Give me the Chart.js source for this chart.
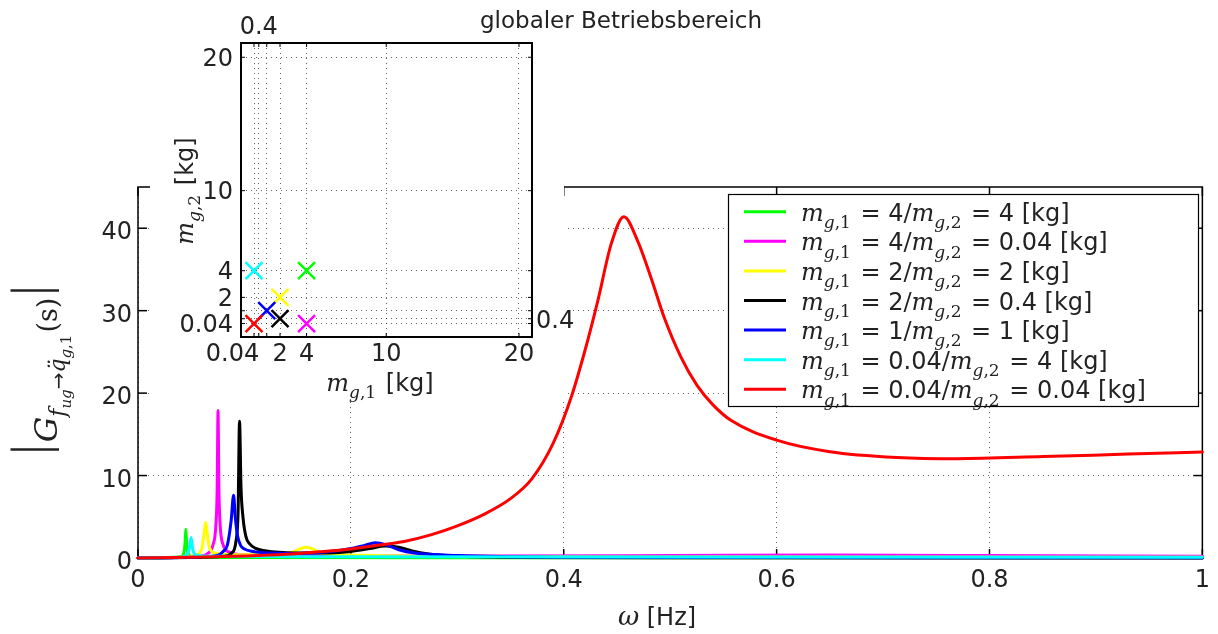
<!DOCTYPE html>
<html>
<head>
<meta charset="utf-8">
<script src="https://cdn.jsdelivr.net/npm/chart.js@4.4.0/dist/chart.umd.min.js"></script>
<style>
  body { margin: 0; background: #fff; }
  #wrap { position: relative; width: 1218px; height: 634px; }
  #wrap canvas { position: absolute; left: 0; top: 0; }
</style>
</head>
<body>
<div id="wrap">
  <canvas id="main" width="1218" height="634"></canvas>
  <canvas id="inset" width="1218" height="634"></canvas>
</div>
<script>
// series order: green, magenta, yellow, black, blue, cyan, red
const seriesColors = ['#00ff00', '#ff00ff', '#ffff00', '#000000', '#0000ff', '#00ffff', '#ff0000'];
const m1Labels = ['4', '4', '2', '2', '1', '0.04', '0.04'];
const m2Labels = ['4', '0.04', '2', '0.4', '1', '4', '0.04'];
const m1Values = [4, 4, 2, 2, 1, 0.04, 0.04];
const m2Values = [4, 0.04, 2, 0.4, 1, 4, 0.04];

// main plot axes
const mainXTicks = [0, 0.2, 0.4, 0.6, 0.8, 1];
const mainXLabels = ['0', '0.2', '0.4', '0.6', '0.8', '1'];
const mainYTicks = [0, 10, 20, 30, 40];
const mainYLabels = ['0', '10', '20', '30', '40'];

// inset axes
const insetTicks = [0.04, 0.4, 1, 2, 4, 10, 20];
const insetBottomLabels = ['0.04', '2', '4', '10', '20'];
const insetLeftLabels = ['0.04', '2', '4', '10', '20'];
const insetTopTicks = [0.4];
const insetRightTicks = [0.4];

// |G| over omega [Hz]
const greenX = [0, 0.03, 0.04, 0.043, 0.0443, 0.0449, 0.0456, 0.047, 0.05, 0.06, 0.1, 0.3, 1];
const greenY = [0, 0.05, 0.15, 0.6, 2.0, 3.5, 2.0, 0.6, 0.2, 0.1, 0.05, 0.03, 0.02];

const magentaX = [0, 0.04, 0.06, 0.065, 0.0705, 0.0732, 0.0744, 0.0752, 0.076, 0.0772, 0.08, 0.086, 0.1, 0.15, 0.3, 0.5, 0.65, 0.8, 1];
const magentaY = [0, 0.1, 0.25, 0.5, 1.6, 4, 8.5, 17.9, 8.5, 4, 1.6, 0.7, 0.4, 0.25, 0.25, 0.3, 0.35, 0.3, 0.2];

const yellowX = [0, 0.04, 0.055, 0.06, 0.062, 0.0636, 0.065, 0.067, 0.072, 0.09, 0.13, 0.145, 0.152, 0.158, 0.164, 0.172, 0.2, 0.3, 0.5, 1];
const yellowY = [0, 0.1, 0.4, 1.2, 2.8, 4.35, 3.0, 1.3, 0.6, 0.4, 0.45, 0.7, 1.1, 1.3, 1.1, 0.6, 0.35, 0.2, 0.12, 0.08];

const blackX = [0, 0.05, 0.08, 0.088, 0.092, 0.094, 0.0954, 0.0968, 0.0986, 0.1014, 0.105, 0.11, 0.1235, 0.14, 0.154, 0.18, 0.2, 0.218, 0.232, 0.245, 0.2576, 0.273, 0.304, 0.35, 0.5, 1];
const blackY = [0, 0.05, 0.2, 0.6, 2.0, 5.5, 16.6, 8.5, 5.0, 2.6, 1.7, 1.2, 0.8, 0.65, 0.6, 0.62, 0.8, 1.15, 1.45, 1.3, 0.85, 0.5, 0.2, 0.06, 0.02, 0.01];

const blueX = [0, 0.04, 0.06, 0.075, 0.08, 0.084, 0.0875, 0.0898, 0.0915, 0.0935, 0.0965, 0.1, 0.108, 0.125, 0.14, 0.16, 0.185, 0.2, 0.212, 0.223, 0.235, 0.245, 0.26, 0.3, 0.4, 0.6, 1];
const blueY = [0, 0.05, 0.15, 0.35, 0.8, 1.6, 4.5, 7.6, 4.8, 2.7, 1.5, 1.1, 0.8, 0.6, 0.55, 0.6, 0.85, 1.15, 1.5, 1.85, 1.5, 1.0, 0.6, 0.3, 0.1, 0.05, 0.03];

const cyanX = [0, 0.04, 0.046, 0.0485, 0.0499, 0.0512, 0.054, 0.07, 0.2, 0.5, 1];
const cyanY = [0, 0.1, 0.4, 1.3, 2.5, 1.2, 0.4, 0.2, 0.15, 0.12, 0.1];

const redX = [0, 0.05, 0.1, 0.139, 0.17, 0.2, 0.226, 0.25, 0.275, 0.3, 0.325, 0.35, 0.37, 0.39, 0.407, 0.42, 0.432, 0.4446, 0.4565, 0.4693, 0.482, 0.4943, 0.51, 0.5254, 0.54, 0.557, 0.6, 0.65, 0.713, 0.77, 0.85, 0.93, 1];
const redY = [0, 0.1, 0.25, 0.45, 0.75, 1.1, 1.55, 2.0, 2.8, 3.9, 5.3, 7.2, 9.6, 13.9, 19.5, 25.2, 31.2, 38.1, 41.4, 38.5, 34.0, 29.2, 24.4, 20.9, 18.6, 16.7, 14.3, 12.9, 12.2, 12.05, 12.3, 12.6, 12.85];

const curves = [[greenX, greenY], [magentaX, magentaY], [yellowX, yellowY], [blackX, blackY],
                [blueX, blueY], [cyanX, cyanY], [redX, redY]];

const TXT = '#222';
const MI = s => `italic ${s}px "DejaVu Serif"`;
const RM = s => `${s}px "DejaVu Serif"`;
const SS = s => `${s}px "DejaVu Sans"`;

function richWidth(ctx, parts) {
  let w = 0;
  parts.forEach(p => { ctx.font = p.f; w += ctx.measureText(p.t).width + (p.gap || 0); });
  return w;
}

function drawRich(ctx, parts, x, y, center) {
  let cx = center ? x - richWidth(ctx, parts) / 2 : x;
  ctx.textAlign = 'left';
  ctx.textBaseline = 'alphabetic';
  ctx.fillStyle = TXT;
  parts.forEach(p => {
    ctx.font = p.f;
    ctx.fillText(p.t, cx, y + (p.dy || 0));
    cx += ctx.measureText(p.t).width + (p.gap || 0);
  });
}

function massParts(k, size) {
  const s = Math.round(size * 0.7);
  return [{ t: 'm', f: MI(size) }, { t: 'g', f: MI(s), dy: size * 0.3 }, { t: ',' + k, f: RM(s), dy: size * 0.3, gap: 2 }];
}

function legendParts(i, size) {
  return [...massParts(1, size), { t: ' = ', f: RM(size) }, { t: m1Labels[i], f: SS(size) }, { t: '/', f: RM(size) },
          ...massParts(2, size), { t: ' = ', f: RM(size) }, { t: m2Labels[i], f: SS(size) }, { t: ' [kg]', f: SS(size) }];
}

function tickLine(ctx, x1, y1, x2, y2) {
  ctx.beginPath(); ctx.moveTo(x1, y1); ctx.lineTo(x2, y2); ctx.stroke();
}

const gridOpts = { color: 'rgba(0,0,0,0.6)', lineWidth: 1, drawTicks: false };
const borderOpts = { display: false, dash: [1, 4] };
const tickFont = { family: 'DejaVu Sans', size: 24 };

// ---------- main chart ----------
const mainPlugin = {
  id: 'mainDecor',
  beforeDatasetsDraw(chart) {
    const { ctx, chartArea: a, scales: { x, y } } = chart;
    ctx.save();
    ctx.strokeStyle = '#000';
    ctx.lineWidth = 1.5;
    ctx.strokeRect(a.left, a.top, a.right - a.left, a.bottom - a.top);
    mainXTicks.forEach(v => {
      const px = x.getPixelForValue(v);
      tickLine(ctx, px, a.bottom, px, a.bottom - 9);
      tickLine(ctx, px, a.top, px, a.top + 9);
    });
    mainYTicks.forEach(v => {
      const py = y.getPixelForValue(v);
      tickLine(ctx, a.left, py, a.left + 9, py);
      tickLine(ctx, a.right, py, a.right - 9, py);
    });
    // area hidden behind the inset axes
    ctx.fillStyle = '#fff';
    ctx.fillRect(150, 0, 414, 402);
    ctx.restore();
  },
  afterDraw(chart) {
    const { ctx } = chart;
    ctx.save();
    // title
    ctx.font = SS(23);
    ctx.fillStyle = TXT;
    ctx.textAlign = 'center';
    ctx.fillText('globaler Betriebsbereich', 621, 28);
    // x title
    drawRich(ctx, [{ t: '\u03c9', f: MI(26) }, { t: ' [Hz]', f: SS(24) }], 657, 625, true);
    // y title
    ctx.save();
    ctx.translate(57, 370);
    ctx.rotate(-Math.PI / 2);
    drawRich(ctx, [
      { t: '|', f: '52px "Liberation Serif"', dy: -9, gap: 2 },
      { t: 'G', f: MI(32) },
      { t: 'f', f: MI(22), dy: 8 },
      { t: 'ug', f: MI(15), dy: 14 },
      { t: '\u2192', f: SS(20), dy: 8 },
      { t: 'q\u0308', f: MI(22), dy: 8 },
      { t: 'g', f: MI(15), dy: 14 },
      { t: ',1', f: RM(15), dy: 14, gap: 2 },
      { t: '(s)', f: RM(27), gap: 2 },
      { t: '|', f: '52px "Liberation Serif"', dy: -9 }
    ], 0, 0, true);
    ctx.restore();
    // legend
    ctx.fillStyle = '#fff';
    ctx.fillRect(728.5, 194.5, 470, 212);
    ctx.strokeStyle = '#000';
    ctx.lineWidth = 1.2;
    ctx.strokeRect(728.5, 194.5, 470, 212);
    seriesColors.forEach((c, i) => {
      const ry = 211.7 + i * 29.6;
      ctx.strokeStyle = c;
      ctx.lineWidth = 3;
      tickLine(ctx, 744, ry, 786, ry);
      drawRich(ctx, legendParts(i, 24), 801, ry + 9, false);
    });
    ctx.restore();
  }
};

new Chart(document.getElementById('main'), {
  type: 'line',
  data: {
    datasets: curves.map(([xs, ys], i) => ({
      label: m1Labels[i] + '/' + m2Labels[i],
      data: xs.map((xv, k) => ({ x: xv, y: ys[k] })),
      borderColor: seriesColors[i],
      borderWidth: 3,
      pointRadius: 0,
      fill: false,
      cubicInterpolationMode: 'monotone',
      borderJoinStyle: 'round',
      borderCapStyle: 'round',
      clip: false,
      order: curves.length - i
    }))
  },
  options: {
    responsive: false,
    animation: false,
    events: [],
    layout: { padding: { top: 187, right: 12, left: 0, bottom: 0 } },
    plugins: { legend: { display: false }, tooltip: { enabled: false }, title: { display: false } },
    scales: {
      x: {
        type: 'linear', min: 0, max: 1,
        afterBuildTicks: s => { s.ticks = mainXTicks.map(v => ({ value: v })); },
        afterFit: s => { s.height = 76; },
        ticks: { callback: (v, i) => mainXLabels[i], font: tickFont, color: TXT, padding: 8, maxRotation: 0, autoSkip: false },
        grid: gridOpts, border: borderOpts
      },
      y: {
        type: 'linear', min: 0, max: 45,
        afterBuildTicks: s => { s.ticks = mainYTicks.map(v => ({ value: v })); },
        afterFit: s => { s.width = 138; },
        ticks: { callback: (v, i) => mainYLabels[i], font: tickFont, color: TXT, padding: 6, labelOffset: 5, autoSkip: false },
        grid: gridOpts, border: borderOpts
      }
    }
  },
  plugins: [mainPlugin]
});

// ---------- inset chart ----------
const insetPlugin = {
  id: 'insetDecor',
  beforeDraw(chart) {
    const { ctx, chartArea: a } = chart;
    ctx.save();
    ctx.fillStyle = '#fff';
    ctx.fillRect(a.left, a.top, a.right - a.left, a.bottom - a.top);
    ctx.restore();
  },
  afterDraw(chart) {
    const { ctx, chartArea: a, scales: { x, y } } = chart;
    ctx.save();
    ctx.strokeStyle = '#000';
    ctx.lineWidth = 2;
    ctx.strokeRect(a.left, a.top, a.right - a.left, a.bottom - a.top);
    ctx.lineWidth = 1;
    insetTicks.forEach(v => {
      const px = x.getPixelForValue(v);
      const py = y.getPixelForValue(v);
      tickLine(ctx, px, a.bottom, px, a.bottom - 4);
      tickLine(ctx, px, a.top, px, a.top + 4);
      tickLine(ctx, a.left, py, a.left + 4, py);
      tickLine(ctx, a.right, py, a.right - 4, py);
    });
    drawRich(ctx, [...massParts(1, 24), { t: ' [kg]', f: SS(24) }], 380, 391, true);
    ctx.translate(193, 191);
    ctx.rotate(-Math.PI / 2);
    drawRich(ctx, [...massParts(2, 24), { t: ' [kg]', f: SS(24) }], 0, 0, true);
    ctx.restore();
  }
};

const insetLimits = { xMin: -0.94, xMax: 20.98, yMin: -0.97, yMax: 21.07 };
const fmt = v => String(Number(v.toFixed(2)));

new Chart(document.getElementById('inset'), {
  type: 'scatter',
  data: {
    datasets: m1Values.map((v, i) => ({
      label: m1Labels[i] + '/' + m2Labels[i],
      data: [{ x: v, y: m2Values[i] }],
      borderColor: seriesColors[i],
      backgroundColor: seriesColors[i],
      pointStyle: 'crossRot',
      pointRadius: 12,
      pointBorderWidth: 2.5,
      order: m1Values.length - i
    }))
  },
  options: {
    responsive: false,
    animation: false,
    events: [],
    layout: { padding: 0 },
    plugins: { legend: { display: false }, tooltip: { enabled: false } },
    scales: {
      x: {
        type: 'linear', position: 'bottom', min: insetLimits.xMin, max: insetLimits.xMax,
        afterBuildTicks: s => { s.ticks = insetTicks.map(v => ({ value: v })); },
        afterFit: s => { s.height = 297; },
        ticks: {
          callback: v => {
            const t = fmt(v);
            if (!insetBottomLabels.includes(t)) return '';
            return t === '0.04' ? t + '     \u2009' : t;
          },
          font: tickFont, color: TXT, padding: 3, maxRotation: 0, autoSkip: false
        },
        grid: gridOpts, border: borderOpts
      },
      y: {
        type: 'linear', position: 'left', min: insetLimits.yMin, max: insetLimits.yMax,
        afterBuildTicks: s => { s.ticks = insetTicks.map(v => ({ value: v })); },
        afterFit: s => { s.width = 241; },
        ticks: {
          callback: v => { const t = fmt(v); return insetLeftLabels.includes(t) ? t : ''; },
          font: tickFont, color: TXT, padding: 8, labelOffset: 2, autoSkip: false
        },
        grid: gridOpts, border: borderOpts
      },
      x2: {
        axis: 'x', type: 'linear', position: 'top', min: insetLimits.xMin, max: insetLimits.xMax,
        afterBuildTicks: s => { s.ticks = insetTopTicks.map(v => ({ value: v })); },
        afterFit: s => { s.height = 43; },
        ticks: { callback: v => fmt(v), font: tickFont, color: TXT, padding: 1, maxRotation: 0, autoSkip: false },
        grid: { display: false, drawTicks: false }, border: { display: false }
      },
      y2: {
        axis: 'y', type: 'linear', position: 'right', min: insetLimits.yMin, max: insetLimits.yMax,
        afterBuildTicks: s => { s.ticks = insetRightTicks.map(v => ({ value: v })); },
        afterFit: s => { s.width = 686; },
        ticks: { callback: v => fmt(v), font: tickFont, color: TXT, padding: 4, labelOffset: 3, autoSkip: false },
        grid: { display: false, drawTicks: false }, border: { display: false }
      }
    }
  },
  plugins: [insetPlugin]
});
</script>
</body>
</html>
